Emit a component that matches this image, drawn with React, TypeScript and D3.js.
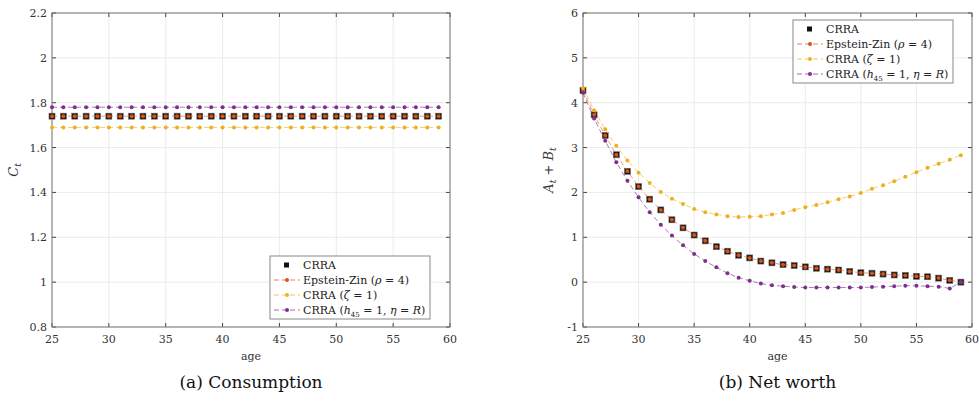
import * as d3 from "d3";

const ages = d3.range(25, 60);
const crraNW = [4.27, 3.73, 3.27, 2.84, 2.47, 2.13, 1.85, 1.61, 1.39, 1.21, 1.05, 0.92, 0.79, 0.69, 0.6, 0.54, 0.47, 0.43, 0.39, 0.37, 0.34, 0.31, 0.29, 0.27, 0.24, 0.21, 0.2, 0.18, 0.16, 0.15, 0.13, 0.12, 0.09, 0.04, 0.0];
const zetaNW = [4.33, 3.83, 3.41, 3.04, 2.71, 2.44, 2.21, 2.01, 1.86, 1.74, 1.63, 1.56, 1.51, 1.47, 1.45, 1.46, 1.47, 1.51, 1.54, 1.61, 1.67, 1.72, 1.78, 1.85, 1.91, 1.99, 2.08, 2.16, 2.25, 2.35, 2.45, 2.55, 2.64, 2.73, 2.83];
const habitNW = [4.22, 3.65, 3.15, 2.67, 2.26, 1.89, 1.56, 1.28, 1.04, 0.82, 0.63, 0.47, 0.33, 0.2, 0.1, 0.03, -0.03, -0.07, -0.09, -0.11, -0.12, -0.12, -0.12, -0.12, -0.12, -0.12, -0.11, -0.1, -0.09, -0.08, -0.08, -0.09, -0.1, -0.14, 0.0];
const crraC = ages.map(() => 1.74);
const zetaC = ages.map(() => 1.69);
const habitC = ages.map(() => 1.78);

const xTicks = [25, 30, 35, 40, 45, 50, 55, 60];
const yTicksC = [0.8, 1, 1.2, 1.4, 1.6, 1.8, 2, 2.2];
const yTicksNW = [-1, 0, 1, 2, 3, 4, 5, 6];

const ORANGE = "#D95319", YELLOW = "#EDB120", PURPLE = "#7E2F8E";
const FONT = "'DejaVu Serif', serif";

type Panel = {
  x0: number; x1: number; y0: number; y1: number;
  yDom: [number, number]; yTicks: number[];
  crra: number[]; zeta: number[]; habit: number[];
  legend: [number, number]; ylabel: string; caption: string;
};

const panels: Panel[] = [
  { x0: 52, x1: 450, y0: 13, y1: 327, yDom: [0.8, 2.2], yTicks: yTicksC, crra: crraC, zeta: zetaC, habit: habitC, legend: [270, 256], ylabel: "C", caption: "(a) Consumption" },
  { x0: 583, x1: 972, y0: 13, y1: 327, yDom: [-1, 6], yTicks: yTicksNW, crra: crraNW, zeta: zetaNW, habit: habitNW, legend: [793, 20], ylabel: "AB", caption: "(b) Net worth" },
];

function Chart({ p }: { p: Panel }) {
  const x = d3.scaleLinear().domain([25, 60]).range([p.x0, p.x1]);
  const y = d3.scaleLinear().domain(p.yDom).range([p.y1, p.y0]);
  const line = d3.line<number>().x((_, i) => x(ages[i])).y((d) => y(d));
  const series = [
    { data: p.zeta, c: YELLOW },
    { data: p.habit, c: PURPLE },
  ];
  const [lx, ly] = p.legend;
  const lw = 160, lh = 63;
  const cx = (p.x0 + p.x1) / 2;
  return (
    <g fontFamily={FONT}>
      {xTicks.map((t) => (
        <line key={"gx" + t} x1={x(t)} x2={x(t)} y1={p.y0} y2={p.y1} stroke="#e6e6e6" strokeWidth={0.8} />
      ))}
      {p.yTicks.map((t) => (
        <line key={"gy" + t} x1={p.x0} x2={p.x1} y1={y(t)} y2={y(t)} stroke="#e6e6e6" strokeWidth={0.8} />
      ))}
      {xTicks.map((t) => (
        <g key={"tx" + t}>
          <line x1={x(t)} x2={x(t)} y1={p.y1} y2={p.y1 - 4} stroke="#444" />
          <line x1={x(t)} x2={x(t)} y1={p.y0} y2={p.y0 + 4} stroke="#444" />
          <text x={x(t)} y={p.y1 + 16} fontSize={11} textAnchor="middle" fill="#333">{t}</text>
        </g>
      ))}
      {p.yTicks.map((t) => (
        <g key={"ty" + t}>
          <line x1={p.x0} x2={p.x0 + 4} y1={y(t)} y2={y(t)} stroke="#444" />
          <line x1={p.x1} x2={p.x1 - 4} y1={y(t)} y2={y(t)} stroke="#444" />
          <text x={p.x0 - 5} y={y(t) + 4} fontSize={11} textAnchor="end" fill="#333">{t}</text>
        </g>
      ))}
      <rect x={p.x0} y={p.y0} width={p.x1 - p.x0} height={p.y1 - p.y0} fill="none" stroke="#777" strokeWidth={1} />
      <text x={cx} y={p.y1 + 33} fontSize={11} textAnchor="middle" fill="#333">age</text>
      {p.ylabel === "C" ? (
        <text transform={`translate(${p.x0 - 34},${(p.y0 + p.y1) / 2}) rotate(-90)`} fontSize={13} textAnchor="middle" fill="#333">
          <tspan fontStyle="italic">C</tspan><tspan fontStyle="italic" fontSize={9} dy={3}>t</tspan>
        </text>
      ) : (
        <text transform={`translate(${p.x0 - 30},${(p.y0 + p.y1) / 2}) rotate(-90)`} fontSize={13} textAnchor="middle" fill="#333">
          <tspan fontStyle="italic">A</tspan><tspan fontStyle="italic" fontSize={9} dy={3}>t</tspan>
          <tspan dy={-3}> + </tspan><tspan fontStyle="italic">B</tspan><tspan fontStyle="italic" fontSize={9} dy={3}>t</tspan>
        </text>
      )}
      {p.crra.map((d, i) => (
        <rect key={"sq" + i} x={x(ages[i]) - 3} y={y(d) - 3} width={6} height={6} fill="#111" stroke="#666" strokeWidth={0.6} />
      ))}
      <path d={line(p.crra) ?? ""} fill="none" stroke={ORANGE} strokeWidth={0.8} strokeDasharray="5 3" opacity={0.7} />
      {p.crra.map((d, i) => (
        <circle key={"or" + i} cx={x(ages[i])} cy={y(d)} r={2} fill={ORANGE} />
      ))}
      {series.map((s, k) => (
        <g key={k}>
          <path d={line(s.data) ?? ""} fill="none" stroke={s.c} strokeWidth={0.8} strokeDasharray="5 3" opacity={0.8} />
          {s.data.map((d, i) => (
            <circle key={i} cx={x(ages[i])} cy={y(d)} r={2} fill={s.c} />
          ))}
        </g>
      ))}
      <rect x={lx} y={ly} width={lw} height={lh} fill="white" stroke="#888" strokeWidth={1} />
      {[
        { lbl: "CRRA", c: "#111", sq: true },
        { lbl: "Epstein-Zin (", c: ORANGE, math: ["ρ", " = 4)"] },
        { lbl: "CRRA (", c: YELLOW, math: ["ζ", " = 1)"] },
        { lbl: "CRRA (", c: PURPLE, habit: true },
      ].map((e, i) => {
        const yy = ly + 9 + i * 15;
        return (
          <g key={i}>
            {e.sq ? (
              <rect x={lx + 14} y={yy - 2.5} width={5} height={5} fill="#111" />
            ) : (
              <>
                <line x1={lx + 4} x2={lx + 30} y1={yy} y2={yy} stroke={e.c} strokeDasharray="5 3" opacity={0.7} />
                <circle cx={lx + 17} cy={yy} r={2} fill={e.c} />
              </>
            )}
            <text x={lx + 33} y={yy + 4} fontSize={11} fill="#222">
              {e.lbl}
              {e.math && (<><tspan fontStyle="italic">{e.math[0]}</tspan>{e.math[1]}</>)}
              {e.habit && (
                <>
                  <tspan fontStyle="italic">h</tspan><tspan fontSize={7} dy={3}>45</tspan>
                  <tspan dy={-3}> = 1, </tspan><tspan fontStyle="italic">η</tspan> = <tspan fontStyle="italic">R</tspan>)
                </>
              )}
            </text>
          </g>
        );
      })}
      <text x={cx} y={388} fontSize={17} textAnchor="middle" fill="#111">{p.caption}</text>
    </g>
  );
}

export default function App() {
  return (
    <svg width={979} height={403} style={{ position: "absolute", left: 0, top: 0, background: "white" }}>
      {panels.map((p, i) => (
        <Chart key={i} p={p} />
      ))}
    </svg>
  );
}
